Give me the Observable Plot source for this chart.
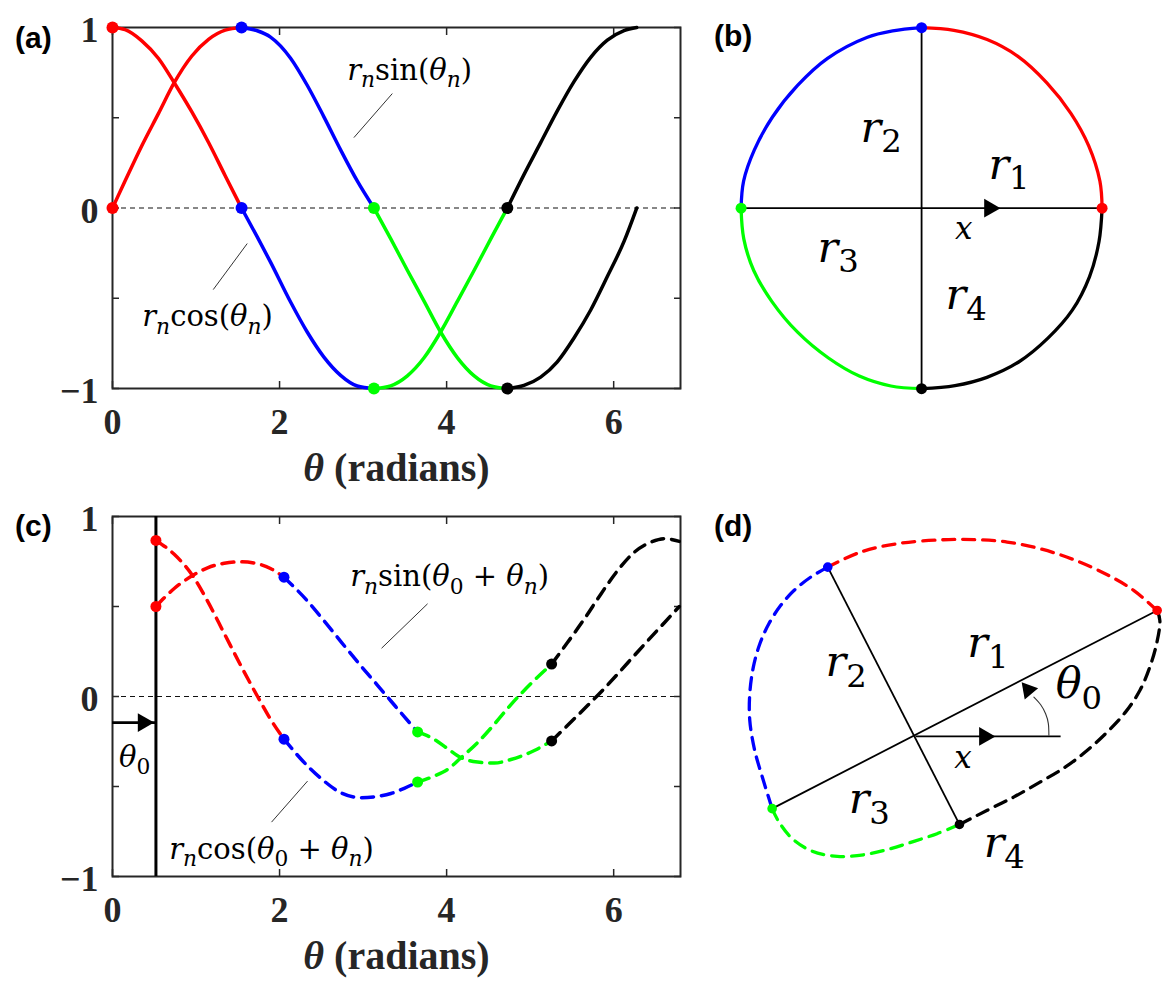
<!DOCTYPE html>
<html>
<head>
<meta charset="utf-8">
<script src="https://cdn.jsdelivr.net/npm/d3@7"></script>
<script src="https://cdn.jsdelivr.net/npm/@observablehq/plot@0.6"></script>
<style>
  body { margin: 0; background: #fff; }
  #fig { position: relative; width: 1176px; height: 991px; overflow: hidden; }
  .panel { position: absolute; }
  .tag { position: absolute; font: bold 30px "Liberation Sans", Arial, sans-serif; line-height: 30px; color: #000; }
</style>
</head>
<body>
<div id="fig"></div>
<script>
// quarters of the loop, in drawing order
const quarters = ["first", "second", "third", "fourth"];
const quarterColours = ["#ff0000", "#0000ff", "#00ff00", "#000000"];

// (a) theta_n and r_n cos / r_n sin, one row per quarter
const thA = [
  [0, 0.15, 0.351, 0.551, 0.739, 0.95, 1.15, 1.349, 1.545],
  [1.545, 1.733, 1.892, 2.132, 2.331, 2.531, 2.731, 2.93, 3.13],
  [3.13, 3.33, 3.53, 3.73, 3.928, 4.13, 4.33, 4.53, 4.727],
  [4.727, 4.926, 5.126, 5.325, 5.525, 5.725, 5.924, 6.124, 6.276]
];
const cosA = [
  [1, 0.988, 0.926, 0.828, 0.694, 0.532, 0.363, 0.179, 0],
  [0, -0.16, -0.3, -0.521, -0.687, -0.826, -0.927, -0.986, -1],
  [-1, -0.985, -0.93, -0.83, -0.687, -0.516, -0.345, -0.17, 0],
  [0, 0.185, 0.362, 0.538, 0.7, 0.835, 0.93, 0.983, 1]
];
const sinA = [
  [0, 0.149, 0.345, 0.524, 0.694, 0.842, 0.934, 0.985, 1],
  [1, 0.982, 0.947, 0.83, 0.68, 0.505, 0.322, 0.15, 0],
  [0, -0.17, -0.345, -0.516, -0.687, -0.83, -0.93, -0.985, -1],
  [-1, -0.983, -0.937, -0.852, -0.72, -0.565, -0.38, -0.185, 0]
];

// (c) theta, r_n cos(theta0+theta_n), r_n sin(theta0+theta_n)
const thC = [
  [0.52, 0.739, 0.958, 1.138, 1.338, 1.538, 1.737, 1.897, 2.053],
  [2.053, 2.335, 2.534, 2.734, 2.974, 3.173, 3.333, 3.493, 3.653],
  [3.653, 3.852, 4.012, 4.172, 4.371, 4.571, 4.77, 5.05, 5.257],
  [5.257, 5.449, 5.649, 5.848, 6.048, 6.248, 6.447, 6.607, 6.786]
];
const cosC = [
  [0.867, 0.79, 0.672, 0.53, 0.35, 0.17, 0, -0.13, -0.237],
  [-0.237, -0.386, -0.47, -0.535, -0.562, -0.555, -0.539, -0.51, -0.475],
  [-0.475, -0.442, -0.405, -0.34, -0.256, -0.154, -0.045, 0.09, 0.18],
  [0.18, 0.301, 0.431, 0.57, 0.7, 0.802, 0.858, 0.877, 0.862]
];
const sinC = [
  [0.5, 0.6, 0.672, 0.715, 0.74, 0.748, 0.737, 0.71, 0.663],
  [0.663, 0.53, 0.42, 0.305, 0.17, 0.062, -0.025, -0.112, -0.197],
  [-0.197, -0.238, -0.29, -0.34, -0.364, -0.37, -0.35, -0.3, -0.247],
  [-0.247, -0.16, -0.068, 0.025, 0.125, 0.228, 0.33, 0.41, 0.5]
];

// (d) the rotated loop, x and y
const dX = [
  [0.886, 0.801, 0.703, 0.581, 0.458, 0.336, 0.214, 0.092, -0.067, -0.202, -0.322],
  [-0.322, -0.385, -0.446, -0.495, -0.538, -0.571, -0.595, -0.608, -0.608, -0.59, -0.562, -0.526],
  [-0.526, -0.501, -0.452, -0.379, -0.287, -0.189, -0.092, -0.006, 0.079, 0.161],
  [0.161, 0.263, 0.361, 0.458, 0.55, 0.63, 0.703, 0.77, 0.823, 0.859, 0.884, 0.896, 0.886]
];
const dY = [
  [0.462, 0.535, 0.593, 0.648, 0.688, 0.713, 0.722, 0.721, 0.707, 0.676, 0.621],
  [0.621, 0.584, 0.535, 0.48, 0.413, 0.34, 0.254, 0.156, 0.059, -0.051, -0.149, -0.265],
  [-0.265, -0.314, -0.375, -0.421, -0.44, -0.434, -0.412, -0.385, -0.357, -0.323],
  [-0.323, -0.271, -0.222, -0.167, -0.112, -0.051, 0.016, 0.089, 0.169, 0.254, 0.34, 0.425, 0.462]
];

const xTicks = [0, 2, 4, 6];
const yTicks = [-1, -0.5, 0, 0.5, 1];
const yTickLabels = [-1, 0, 1];

// annotations (label text uses * for italic, _ for subscript)
const labA = [
  {x: 2.81, y: 0.763, t: "*r_*nsin(*θ_*n)"},
  {x: 0.356, y: -0.605, t: "*r_*ncos(*θ_*n)"}
];
const leadA = [
  {x1: 3.35, y1: 0.634, x2: 2.89, y2: 0.39},
  {x1: 1.613, y1: -0.197, x2: 1.206, y2: -0.452}
];
const labC = [
  {x: 2.846, y: 0.663, t: "*r_*nsin(*θ_0 + *θ_*n)"},
  {x: 0.678, y: -0.85, t: "*r_*ncos(*θ_0 + *θ_*n)"},
  {x: 0.079, y: -0.34, t: "*θ_0"}
];
const leadC = [
  {x1: 3.772, y1: 0.515, x2: 3.221, y2: 0.268},
  {x1: 2.335, y1: -0.47, x2: 1.904, y2: -0.698}
];
const arrowC = {y: -0.145, head: 0.368};
const labB = [
  {x: 0.371, y: 0.218, t: "*r_1"},
  {x: -0.338, y: 0.423, t: "*r_2"},
  {x: -0.576, y: -0.242, t: "*r_3"},
  {x: 0.133, y: -0.503, t: "*r_4"}
];
const xLabB = {x: 0.233, y: -0.115, t: "*x"};
const arrowB = {x: 0.377, y: 0};
const labD = [
  {x: 0.19, y: 0.328, t: "*r_1"},
  {x: -0.33, y: 0.257, t: "*r_2"},
  {x: -0.245, y: -0.247, t: "*r_3"},
  {x: 0.25, y: -0.406, t: "*r_4"},
  {x: 0.514, y: 0.176, t: "*θ_0"}
];
const xLabD = {x: 0.174, y: -0.079, t: "*x"};
const axisD = {x2: 0.532, head: 0.253};
const arcX = [0.489, 0.487, 0.477, 0.459, 0.434];
const arcY = [0.004, 0.047, 0.083, 0.116, 0.144];
const arcHead = {x: 0.413, y: 0.17};

const serif = '"Liberation Serif", "Times New Roman", serif';
const mathFont = '"DejaVu Serif", "Liberation Serif", serif';
const ink = "#262626";
const colour = {domain: quarters, range: quarterColours};

const curveRows = (th, c, s) => th.flatMap((ts, q) => ts.map((t, i) => ({q: quarters[q], i, t, c: c[q][i], s: s[q][i]})));
const rowsA = curveRows(thA, cosA, sinA);
const rowsC = curveRows(thC, cosC, sinC);
const rowsD = dX.flatMap((xs, q) => xs.map((x, i) => ({q: quarters[q], i, c: x, s: dY[q][i]})));
const startsA = rowsA.filter(d => d.i === 0);
const startsC = rowsC.filter(d => d.i === 0);
const startsD = rowsD.filter(d => d.i === 0);

const tickText = d => (d < 0 ? "\u2212" : "") + Math.abs(d);

function boxAxes() {
  const tick = {tickSize: -7, tickFormat: () => "", stroke: ink, strokeWidth: 1.5, label: null};
  const lab = {tickSize: 0, tickFormat: tickText, fontSize: 36, fontWeight: "bold", fontFamily: serif, fill: ink, label: null};
  return [
    Plot.frame({stroke: ink, strokeWidth: 2}),
    Plot.axisX(xTicks, {anchor: "bottom", ...tick}),
    Plot.axisX(xTicks, {anchor: "top", ...tick}),
    Plot.axisY(yTicks, {anchor: "left", ...tick}),
    Plot.axisY(yTicks, {anchor: "right", ...tick}),
    Plot.axisX(xTicks, {anchor: "bottom", tickPadding: 20, ...lab}),
    Plot.axisY(yTickLabels, {anchor: "left", tickPadding: 14, dy: 3, ...lab})
  ];
}

function wavePanel(rows, starts, dashed, labels, leaders, extra, height, marginTop, marginBottom, dotR) {
  const dash = dashed ? {strokeDasharray: "12,8"} : {};
  const line = {x: "t", z: "q", stroke: "q", strokeWidth: 3.5, curve: "monotone-x", ...dash};
  return Plot.plot({
    width: 700, height, marginLeft: 112, marginRight: 20, marginTop, marginBottom,
    x: {domain: [0, 6.8], label: null},
    y: {domain: [-1, 1], label: null},
    color: colour,
    style: {overflow: "visible", background: "none", color: "#000"},
    marks: [
      Plot.ruleY([0], {stroke: "#111", strokeWidth: 1.2, strokeDasharray: "5,4"}),
      ...boxAxes(),
      ...extra,
      Plot.line(rows, {...line, y: "c"}),
      Plot.line(rows, {...line, y: "s"}),
      Plot.dot(starts, {x: "t", y: "c", fill: "q", r: dotR}),
      Plot.dot(starts, {x: "t", y: "s", fill: "q", r: dotR}),
      Plot.link(leaders, {x1: "x1", y1: "y1", x2: "x2", y2: "y2", stroke: "#333", strokeWidth: 1}),
      Plot.text(labels, {x: "x", y: "y", text: "t", textAnchor: "start", fontSize: 29, fontFamily: mathFont}),
      Plot.text(["*θ (radians)"], {text: d => d, frameAnchor: "bottom", lineAnchor: "middle", dy: 80,
        fontSize: 40, fontWeight: "bold", fontFamily: serif, fill: ink})
    ]
  });
}

function loopPanel(rows, starts, dashed, opts, extra, labels, xLab, dotR) {
  const dash = dashed ? {strokeDasharray: "12,8"} : {};
  const spokes = [[starts[2], starts[0]], [starts[1], starts[3]]];
  return Plot.plot({
    width: opts.width, height: opts.height, margin: 0,
    x: {domain: opts.x, axis: null},
    y: {domain: opts.y, axis: null},
    color: colour,
    style: {overflow: "visible", background: "none", color: "#000"},
    marks: [
      Plot.link(spokes, {x1: d => d[0].c, y1: d => d[0].s, x2: d => d[1].c, y2: d => d[1].s, stroke: "#000", strokeWidth: 1.8}),
      ...extra,
      Plot.line(rows, {x: "c", y: "s", z: "q", stroke: "q", strokeWidth: 3.3, curve: "catmull-rom", ...dash}),
      Plot.dot(starts, {x: "c", y: "s", fill: "q", r: dotR}),
      Plot.text(labels, {x: "x", y: "y", text: "t", textAnchor: "start", dy: -4, fontSize: 43, fontFamily: mathFont}),
      Plot.text([xLab], {x: "x", y: "y", text: "t", fontSize: 31, fontFamily: mathFont})
    ]
  });
}

const plotA = wavePanel(rowsA, startsA, false, labA, leadA, [], 495, 27, 107, 6);

const plotC = wavePanel(rowsC, startsC, true, labC, leadC, [
  Plot.ruleX([thC[0][0]], {stroke: "#000", strokeWidth: 3}),
  Plot.ruleY([arrowC.y], {x1: 0, x2: thC[0][0], stroke: "#000", strokeWidth: 2.6}),
  Plot.dot([arrowC], {x: "head", y: "y", symbol: "triangle", rotate: 90, r: 7, fill: "#000"})
], 501, 26, 115, 5.5);

const plotB = loopPanel(rowsA, startsA, false,
  {width: 400, height: 395, x: [-1.114, 1.102], y: [-1.093, 1.095]},
  [Plot.dot([arrowB], {x: "x", y: "y", symbol: "triangle", rotate: 90, r: 7, fill: "#000"})],
  labB, xLabB, 5.5);

const plotD = loopPanel(rowsD, startsD, true,
  {width: 436, height: 380, x: [-0.642, 0.957], y: [-0.602, 0.792]},
  [
    Plot.link([axisD], {x1: 0, y1: 0, x2: "x2", y2: 0, stroke: "#000", strokeWidth: 1.8}),
    Plot.dot([axisD], {x: "head", y: 0, symbol: "triangle", rotate: 90, r: 7, fill: "#000"}),
    Plot.line(arcX.map((x, i) => ({x, y: arcY[i]})), {x: "x", y: "y", stroke: "#333", strokeWidth: 1.1, curve: "natural"}),
    Plot.dot([arcHead], {x: "x", y: "y", symbol: "triangle", rotate: -40, r: 6.5, fill: "#000"})
  ],
  labD, xLabD, 4.8);

// rich text: * = italic next char, _ = subscript next char
function mathify(svg) {
  d3.select(svg).selectAll("text")
    .filter(function () { return /[*_]/.test(this.textContent); })
    .each(function () {
      const src = this.textContent;
      const fs = parseFloat(getComputedStyle(this).fontSize) || 30;
      const text = d3.select(this).text(null).style("white-space", "pre");
      let level = 0;
      for (let i = 0; i < src.length; i++) {
        let ch = src[i], sub = false, it = false;
        if (ch === "_") { sub = true; ch = src[++i]; }
        if (ch === "*") { it = true; ch = src[++i]; }
        const span = text.append("tspan").text(ch);
        if (it) span.attr("font-style", "italic");
        if (sub) span.attr("font-size", fs * 0.75);
        const want = sub ? 1 : 0;
        if (want !== level) { span.attr("dy", (want - level) * fs * 0.25); level = want; }
      }
    });
}

const fig = d3.select("#fig");
const place = (plot, left, top) => {
  fig.append("div").attr("class", "panel").style("left", left + "px").style("top", top + "px").append(() => plot);
  mathify(plot);
};
place(plotA, 0, 0);
place(plotB, 720, 10);
place(plotC, 0, 490);
place(plotD, 740, 520);

[["(a)", 15, 23], ["(b)", 714, 21], ["(c)", 15, 511], ["(d)", 714, 511]].forEach(([t, l, tp]) =>
  fig.append("div").attr("class", "tag").style("left", l + "px").style("top", tp + "px").text(t));
</script>
</body>
</html>
